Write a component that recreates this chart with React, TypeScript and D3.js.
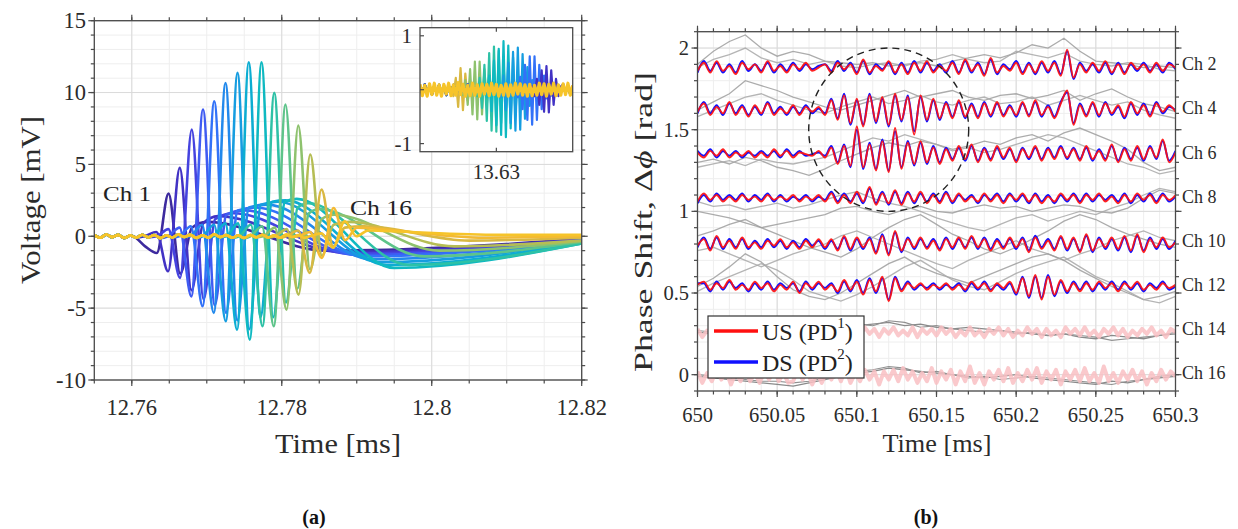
import React from "react";
import * as d3 from "d3";

const FONT = "'Liberation Serif', 'Times New Roman', serif";

// ================= Panel (a): voltage traces, 16 channels =================
const aChColors = ["#3d2a9e", "#4232c4", "#4543df", "#3f5bf2", "#3272f8", "#2289ec", "#169de0", "#0cadd2", "#0fb9c1", "#2ec1a6", "#5ec48a", "#8ec26e", "#b5bd54", "#d9b842", "#f3ba33", "#f6c42a"];
const aPeakT = [12.7649, 12.7664, 12.768, 12.7695, 12.771, 12.7725, 12.7741, 12.7756, 12.7773, 12.779, 12.7805, 12.7822, 12.7838, 12.7853, 12.7869, 12.7884];
const aPeakV = [2.97, 4.76, 7.42, 8.82, 9.4, 10.67, 11.37, 12.1, 12.1, 9.98, 9.17, 7.7, 5.69, 3.25, 1.97, 1.05];
const aPre2V = [-0.7, 0.3, 0.5, 0.6, 0.7, 0.8, 0.8, 0.9, 0.9, 0.8, 0.7, 0.6, 0.5, 0.4, 0.3, 0.2];
const aPreV = [-1.16, -2.43, -2.9, -4.18, -4.87, -5.33, -5.91, -6.5, -7.19, -6.26, -6.26, -5.1, -4.06, -2.55, -1.5, -0.8];
const aPostV = [-2.6, -3.76, -4.38, -4.8, -5.32, -5.85, -6.47, -5.63, -5.63, -4.6, -3.65, -2.3, -1.35, -0.72, -0.27, 0.0];
const aPost2V = [0.6, 0.9, 1.2, 1.5, 1.8, 2.0, 2.2, 2.4, 2.4, 2.0, 1.6, 1.2, 0.8, 0.6, 0.6, 0.4];
const aHumpT = [12.77, 12.7715, 12.7735, 12.775, 12.7765, 12.778, 12.7795, 12.7805, 12.782, 12.7835, 12.785, 12.787, 12.789, 12.791, 12.793, 12.7945];
const aHumpV = [1.0, 1.4, 1.6, 1.8, 2.0, 2.2, 2.4, 2.5, 2.6, 2.3, 1.9, 1.5, 1.0, 0.7, 0.5, 0.35];
const aTailT = [12.786, 12.788, 12.789, 12.79, 12.791, 12.792, 12.793, 12.794, 12.795, 12.797, 12.799, 12.801, 12.803, 12.805, 12.807, 12.809];
const aTailV = [-1.0, -1.1, -1.2, -1.3, -1.4, -1.6, -1.8, -2.0, -2.2, -2.0, -1.4, -1.0, -0.7, -0.3, -0.1, 0.1];
const aEndV = [-0.2, -0.2, -0.25, -0.3, -0.3, -0.35, -0.4, -0.45, -0.5, -0.5, -0.4, -0.35, -0.3, -0.1, 0.0, 0.1];
const aSpikeStep = 0.00156;
const aNoiseStep = 0.0008;
const aBaseNoise = [0.08, -0.1, 0.12, -0.06, 0.1, -0.12, 0.05, -0.09, 0.11, -0.07, 0.09, -0.13, 0.06, -0.08, 0.12, -0.05, 0.1, -0.11, 0.07, -0.09, 0.13, -0.06, 0.08, -0.1, 0.05, -0.12, 0.09, -0.07, 0.11, -0.08, 0.06, -0.1, 0.12, -0.05, 0.09, -0.11, 0.07, -0.08, 0.1, -0.06, 0.12, -0.09, 0.05, -0.1, 0.08];
const aXTicks = [12.76, 12.78, 12.8, 12.82];
const aXTickLabels = ["12.76", "12.78", "12.8", "12.82"];
const aYTicks = [-10, -5, 0, 5, 10, 15];
const aYTickLabels = ["-10", "-5", "0", "5", "10", "15"];

// inset of panel (a)
const insetStep = 0.000125;
const insetStart = 13.626;
const insetEnd = 13.634;
const insetChIdx = [13, 11, 9, 8, 6, 4, 1];
const insetBurstStart = [13.62768, 13.62815, 13.62883, 13.62935, 13.63014, 13.63098, 13.63192];
const insetBurstAmp = [
  [0.05, 0.12, 0.22, 0.32, 0.4, 0.38, 0.3, 0.2, 0.12, 0.06],
  [0.05, 0.1, 0.18, 0.28, 0.38, 0.46, 0.52, 0.55, 0.52, 0.46, 0.38, 0.28, 0.2, 0.12, 0.06],
  [0.05, 0.12, 0.22, 0.34, 0.46, 0.58, 0.68, 0.76, 0.8, 0.78, 0.72, 0.62, 0.5, 0.38, 0.26, 0.16, 0.08],
  [0.06, 0.14, 0.26, 0.4, 0.54, 0.66, 0.76, 0.84, 0.9, 0.88, 0.82, 0.72, 0.6, 0.46, 0.32, 0.2, 0.1],
  [0.06, 0.14, 0.26, 0.38, 0.5, 0.62, 0.7, 0.76, 0.78, 0.74, 0.66, 0.54, 0.42, 0.3, 0.18, 0.1],
  [0.06, 0.14, 0.24, 0.36, 0.46, 0.56, 0.62, 0.65, 0.62, 0.56, 0.46, 0.36, 0.26, 0.16, 0.08],
  [0.06, 0.12, 0.2, 0.28, 0.36, 0.41, 0.44, 0.42, 0.36, 0.28, 0.2, 0.12, 0.06],
];
const insetNoise = [0.06, -0.08, 0.1, -0.05, 0.07, -0.09, 0.04, -0.07, 0.09, -0.06, 0.08, -0.1, 0.05, -0.07, 0.09, -0.04, 0.07, -0.08, 0.06, -0.09, 0.1, -0.06, 0.05, -0.08, 0.07, -0.05, 0.09, -0.07, 0.06, -0.1, 0.08, -0.05, 0.07, -0.09, 0.05, -0.06, 0.1, -0.08, 0.04, -0.07, 0.09, -0.06, 0.08, -0.1, 0.05, -0.07, 0.06, -0.09, 0.1, -0.05, 0.07, -0.08, 0.06, -0.06, 0.09, -0.1, 0.05, -0.07, 0.08, -0.06, 0.1, -0.05, 0.07, -0.09, 0.06];
const insetYellow = [0.1, -0.11, 0.08, -0.12, 0.11, -0.09, 0.12, -0.1, 0.09, -0.12, 0.1, -0.08, 0.12, -0.11, 0.09, -0.1, 0.13, -0.09, 0.1, -0.12, 0.08, -0.11, 0.12, -0.1, 0.09, -0.12, 0.11, -0.08, 0.1, -0.11, 0.12, -0.09, 0.1, -0.12, 0.08, -0.1, 0.11, -0.12, 0.09, -0.1, 0.12, -0.08, 0.11, -0.1, 0.09, -0.12, 0.1, -0.11, 0.08, -0.1, 0.12, -0.09, 0.11, -0.12, 0.1, -0.08, 0.12, -0.11, 0.09, -0.1, 0.11, -0.09, 0.12, -0.1, 0.08];

// ================= Panel (b): phase shift traces =================
const bChLabels = ["Ch 2", "Ch 4", "Ch 6", "Ch 8", "Ch 10", "Ch 12", "Ch 14", "Ch 16"];
const bChLabelY = [1.9, 1.63, 1.36, 1.09, 0.82, 0.55, 0.28, 0.01];
const bBase = [1.88, 1.62, 1.35, 1.08, 0.8, 0.54, 0.26, -0.01];
// US (red) / DS (blue) deviations, hundredths of rad, 76 samples over 650–650.3 ms
const bRed = [
  [-2, 3, -3, 4, -2, 1, -4, 3, -1, 2, -3, 4, -2, 1, -3, 2, -1, 3, -2, 0, 2, -3, 3, -1, 2, -4, 5, -3, 1, -2, 4, -3, 2, -4, 3, -2, 4, -3, 1, -2, 3, -4, 5, -2, 2, -5, 6, -3, 1, -2, 3, -4, 2, -3, 4, -2, 3, -5, 11, -6, 2, -3, 3, -2, 4, -3, 2, -4, 3, -1, 2, -3, 3, -2, 2, 0],
  [-1, 4, -3, 2, -2, 5, -3, 2, -4, 3, -2, 4, -3, 1, -2, 3, -3, 2, -1, 2, -3, 6, -6, 9, -8, 7, -10, 9, -7, 8, -9, 10, -6, 8, -15, 9, -6, 7, -5, 4, -5, 6, -4, 3, -5, 4, -3, 5, -4, 2, -3, 5, -4, 6, -3, 2, -5, 4, 12, -9, 3, -4, 5, -3, 4, -2, 3, -4, 5, -2, 3, -4, 4, -1, 3, -1],
  [1, -2, 2, -1, 3, -2, 1, -1, 2, -2, 1, -2, 3, -1, 2, -2, 1, 0, -1, 2, -2, 4, -6, 5, -7, 17, -8, 6, -10, 8, -11, 16, -9, 7, -6, 8, -5, 4, -6, 3, -4, 5, -3, 6, -5, 3, -4, 5, -2, 4, -5, 3, -2, 5, -4, 3, -3, 4, -2, 3, -4, 5, -3, 2, -4, 6, -5, 3, -4, 5, -3, 4, -2, 9, -5, 1],
  [-2, 3, -1, 2, -2, 1, -2, 2, -1, 1, -2, 2, -1, 1, -1, 2, -2, 1, -1, 2, -2, 3, -3, 2, -3, 4, -2, 7, -4, 3, -3, 5, -4, 3, -2, 4, -3, 2, -3, 3, -2, 3, -2, 1, -2, 3, -2, 2, -3, 2, -1, 3, -2, 2, -3, 1, -2, 3, -1, 2, -3, 2, -1, 3, -2, 1, -3, 2, -2, 3, -1, 2, -3, 2, -1, 2],
  [-1, 3, -4, 5, -2, 2, -3, 4, -2, 1, -3, 2, -1, 3, -2, 1, -3, 2, -2, 3, -2, 3, -4, 5, -3, 4, -2, 3, -6, 5, -7, 8, -4, 3, -2, 4, -3, 2, -4, 3, -2, 4, -3, 5, -2, 3, -4, 2, -3, 4, -2, 3, -5, 4, -3, 2, -4, 5, -3, 4, -5, 6, -4, 3, -2, 4, -3, 5, -4, 6, -5, 3, -2, 4, -2, 1],
  [1, 3, -2, 2, -1, 4, -2, 1, -2, 3, -1, 2, -3, 1, -2, 3, -4, 2, -1, 3, -2, 1, -3, 4, -2, 3, -5, 4, -3, 6, -9, 5, -3, 2, -1, 2, -2, 1, -1, 2, -2, 1, -2, 3, -1, 2, -3, 2, -1, 3, -4, 5, -6, 7, -8, 6, -5, 4, -3, 2, -3, 2, -2, 3, -1, 2, -3, 2, -1, 3, -2, 1, -2, 2, -1, 1],
];
const bBlue = [
  [-3, 4, -2, 3, -3, 2, -3, 4, -2, 2, -2, 3, -3, 2, -2, 3, -2, 2, -1, 1, 2, -2, 4, -2, 3, -3, 4, -4, 2, -1, 3, -4, 3, -3, 4, -3, 3, -2, 2, -3, 4, -3, 4, -3, 3, -4, 5, -4, 2, -1, 4, -3, 3, -4, 3, -3, 4, -4, 10, -7, 3, -2, 2, -3, 3, -4, 3, -3, 2, -2, 3, -2, 2, -3, 3, -1],
  [-2, 5, -2, 3, -3, 4, -2, 3, -3, 2, -3, 5, -2, 2, -3, 2, -2, 3, -2, 1, -2, 7, -5, 10, -9, 6, -9, 10, -8, 7, -10, 9, -7, 9, -13, 8, -7, 6, -6, 5, -4, 5, -5, 4, -4, 5, -4, 4, -3, 3, -4, 4, -3, 5, -4, 3, -4, 5, 11, -8, 4, -3, 4, -4, 5, -3, 2, -5, 4, -3, 4, -3, 5, -2, 2, 0],
  [2, -1, 3, -2, 2, -1, 2, -2, 1, -1, 2, -1, 2, -2, 3, -1, 2, -1, 0, 1, -1, 5, -5, 6, -8, 15, -9, 7, -9, 9, -10, 14, -8, 8, -7, 7, -6, 5, -5, 4, -3, 4, -4, 5, -4, 4, -3, 4, -3, 3, -4, 4, -3, 4, -3, 4, -2, 5, -3, 4, -3, 4, -4, 3, -3, 5, -4, 4, -3, 4, -4, 5, -3, 8, -4, 2],
  [-3, 2, -2, 3, -1, 2, -1, 3, -2, 2, -1, 3, -2, 2, -2, 1, -1, 2, -2, 1, -1, 4, -2, 3, -2, 3, -3, 6, -3, 4, -4, 4, -3, 4, -3, 3, -2, 3, -2, 4, -3, 2, -1, 2, -3, 2, -1, 3, -2, 3, -2, 2, -3, 3, -2, 2, -3, 2, -2, 3, -2, 3, -2, 2, -1, 2, -2, 3, -3, 2, -2, 3, -2, 3, -2, 1],
  [-2, 4, -3, 4, -3, 3, -2, 3, -3, 2, -2, 3, -2, 2, -3, 2, -2, 3, -1, 2, -3, 2, -3, 4, -4, 3, -3, 4, -5, 6, -6, 7, -5, 4, -3, 3, -2, 3, -3, 4, -3, 3, -2, 4, -3, 4, -3, 3, -2, 3, -3, 4, -4, 5, -2, 3, -3, 4, -4, 3, -4, 5, -5, 4, -3, 3, -4, 4, -5, 5, -4, 4, -3, 3, -3, 2],
  [2, 2, -3, 3, -2, 3, -1, 2, -3, 2, -2, 3, -2, 2, -1, 2, -3, 3, -2, 2, -1, 2, -4, 3, -3, 4, -4, 5, -4, 5, -8, 6, -2, 3, -2, 1, -1, 2, -2, 1, -1, 2, -3, 2, -2, 3, -2, 1, -2, 2, -5, 6, -7, 6, -7, 7, -6, 3, -4, 3, -2, 3, -3, 2, -2, 3, -2, 3, -2, 2, -3, 2, -1, 3, -2, 0],
];
// grey reference traces, hundredths of rad from channel baseline, every 0.01 ms
const bGrayA = [
  [2, 10, 16, 20, 12, 7, 10, 8, 4, 3, 2, 3, 1, 2, 3, 1, 4, 6, 8, 6, 9, 14, 12, 18, 10, 4, 3, 2, 0, 1, 0],
  [0, 5, 10, 18, 15, 12, 8, 5, 2, 0, 3, 6, 9, 12, 8, 10, 12, 8, 6, 9, 10, 7, 9, 12, 6, 10, 13, 8, 4, 2, -1],
  [-5, -3, -6, -2, -4, -8, -10, -13, -9, -4, 0, 4, 7, 5, 8, 6, 3, 5, 8, 6, 10, 12, 8, 13, 16, 12, 8, 3, -5, -10, -8],
  [-8, -10, -12, -15, -18, -16, -14, -12, -10, -6, -5, -8, -10, -7, -5, -8, -9, -6, -4, -6, -5, -8, -6, -4, -5, -8, -9, -6, 0, 5, 3],
  [5, 8, 12, 15, 10, 6, 2, -2, -5, -8, -3, 4, 10, 15, 18, 12, 6, 2, -3, -6, -2, 3, 8, 14, 18, 15, 10, 6, 3, 0, -2],
  [0, 5, 12, 20, 15, 6, -2, -6, -8, -4, 2, 8, 14, 18, 12, 8, 5, 2, 6, 10, 14, 18, 20, 16, 10, 5, 0, -4, -8, -6, -3],
  [0, -1, 0, 1, 0, -1, 1, 0, 2, 3, 4, 5, 6, 4, 5, 3, 2, 3, 2, 1, 0, -1, -2, -1, -3, -4, -2, -3, -4, -2, -1],
  [0, -1, -2, -3, -4, -5, -6, -4, -2, 0, 2, 3, 5, 4, 3, 2, 1, 0, -1, 0, 1, -1, -2, -3, -4, -5, -3, -4, -2, -1, 0],
];
const bGrayB = [
  [0, 5, 8, 12, 6, 3, 5, 2, 4, 1, 0, 2, 3, 1, 4, 5, 8, 5, 3, 4, 10, 8, 6, 9, 4, 2, 1, 3, 2, -1, -2],
  [-4, 0, 4, 8, 10, 6, 3, 0, -2, 2, 5, 8, 4, 6, 9, 5, 3, 6, 8, 4, 5, 8, 3, 6, 9, 6, 3, 5, 0, -3, -5],
  [-8, -6, -4, -7, -3, -5, -6, -4, -2, 2, 6, 10, 8, 12, 9, 6, 2, 4, 1, 3, 6, 9, 12, 10, 6, 2, -2, -6, -8, -12, -10],
  [-2, -5, -4, -7, -5, -3, -6, -4, -1, 2, 4, 0, -3, -5, -8, -12, -15, -18, -20, -16, -12, -10, -14, -11, -8, -10, -6, -3, 2, 6, 4],
  [-4, -2, -6, -10, -14, -10, -6, -3, 0, 5, 8, 4, 0, -4, -8, -12, -15, -10, -6, -2, 2, -3, -6, -10, -6, -3, 2, 5, 8, 4, 2],
  [-3, 2, 6, 10, 14, 10, 4, -3, -6, -9, -5, 0, 6, 12, 16, 10, 4, 0, -2, 3, 8, 12, 15, 18, 12, 6, 2, -3, -8, -10, -6],
  [1, 0, -1, 0, 1, 0, -1, 1, 3, 2, 5, 4, 7, 6, 3, 4, 2, 1, 0, 1, -1, 0, -2, -1, -2, -3, -5, -4, -3, -2, 0],
  [1, 0, -1, -2, -3, -3, -4, -3, -1, 1, 3, 4, 6, 5, 2, 3, 1, -1, 0, -2, -1, 0, -1, -2, -3, -4, -5, -3, -2, 0, 1],
];
// faded (pink) traces of Ch 14 and Ch 16, hundredths of rad, 101 samples
const bPink = [
  [2, -3, 1, -2, 3, -1, 2, -3, 1, -2, 3, -2, 1, -3, 2, -1, 3, -2, 2, -1, -3, 2, -2, 3, -1, 2, -3, 1, -2, 3, -2, 1, -3, 2, -2, 3, -1, 2, -3, 2, -1, 3, -2, 1, -2, 3, -3, 2, -1, 2, -2, 3, -1, 2, -3, 1, -2, 3, -2, 1, -3, 2, -1, 3, -2, 2, -3, 1, -2, 3, -1, 2, -3, 2, -2, 1, -3, 3, -1, 2, -2, 3, -2, 1, -3, 2, -1, 3, -2, 2, -3, 1, -2, 2, -1, 3, -2, 1, -3, 2, 0],
  [3, -4, 2, -3, 4, -2, 3, -5, 2, -3, 4, -3, 2, -4, 3, -2, 5, -3, 2, -4, -3, 4, -2, 3, -5, 2, -4, 3, -2, 4, -3, 5, -4, 2, -3, 4, -2, 3, -5, 3, -2, 4, -3, 5, -2, 3, -4, 2, -3, 5, -4, 3, -2, 4, -5, 3, -3, 6, -4, 2, -5, 3, -2, 4, -3, 5, -4, 2, -3, 4, -2, 5, -4, 3, -2, 4, -5, 3, -2, 4, -3, 5, -3, 2, -4, 6, -3, 2, -4, 3, -2, 4, -3, 3, -5, 2, -3, 4, -2, 3, 0],
];
const bEllipseCenter = [650.12, 1.5];
const bEllipseRadii = [0.0502, 0.5];
const bXTicks = [650, 650.05, 650.1, 650.15, 650.2, 650.25, 650.3];
const bXTickLabels = ["650", "650.05", "650.1", "650.15", "650.2", "650.25", "650.3"];
const bYTicks = [0, 0.5, 1, 1.5, 2];
const bYTickLabels = ["0", "0.5", "1", "1.5", "2"];

// ================= scales =================
const xA = d3.scaleLinear().domain([12.755, 12.82]).range([94.3, 581.7]);
const yA = d3.scaleLinear().domain([-10, 15]).range([380, 20.7]);
const xI = d3.scaleLinear().domain([insetStart, insetEnd]).range([420, 572.7]);
const yI = d3.scaleLinear().domain([-1.15, 1.15]).range([151.7, 27.7]);
const xB = d3.scaleLinear().domain([650, 650.3]).range([697.5, 1175.5]);
const yB = d3.scaleLinear().domain([-0.1, 2.1]).range([391, 31.7]);

type Pt = [number, number];
type Scale = d3.ScaleLinear<number, number>;

const AX = "#4a4a4a";
const TXT = "#2b2b2b";

function grid(x: Scale, y: Scale, xMin: number[], yMin: number[], xMaj: number[], yMaj: number[], k: string) {
  const [x0, x1] = x.range();
  const [y0, y1] = y.range();
  const out: any[] = [];
  xMin.forEach((v, i) => out.push(<line key={k + "gx" + i} x1={x(v)} x2={x(v)} y1={y0} y2={y1} stroke="#eeeeee" strokeWidth={1} />));
  yMin.forEach((v, i) => out.push(<line key={k + "gy" + i} x1={x0} x2={x1} y1={y(v)} y2={y(v)} stroke="#eeeeee" strokeWidth={1} />));
  xMaj.forEach((v, i) => out.push(<line key={k + "Gx" + i} x1={x(v)} x2={x(v)} y1={y0} y2={y1} stroke="#dadada" strokeWidth={1} />));
  yMaj.forEach((v, i) => out.push(<line key={k + "Gy" + i} x1={x0} x2={x1} y1={y(v)} y2={y(v)} stroke="#dadada" strokeWidth={1} />));
  return out;
}

function frame(x: Scale, y: Scale, xMin: number[], yMin: number[], xMaj: number[], yMaj: number[], k: string) {
  const [x0, x1] = x.range();
  const [y0, y1] = y.range();
  const out: any[] = [];
  const tk = (key: string, a: number, b: number, c: number, d: number) => out.push(<line key={key} x1={a} y1={b} x2={c} y2={d} stroke={AX} strokeWidth={1.2} />);
  xMin.forEach((v, i) => { tk(k + "xb" + i, x(v), y0, x(v), y0 + 3.5); tk(k + "xt" + i, x(v), y1, x(v), y1 - 3.5); });
  xMaj.forEach((v, i) => { tk(k + "Xb" + i, x(v), y0, x(v), y0 + 6); tk(k + "Xt" + i, x(v), y1, x(v), y1 - 6); });
  yMin.forEach((v, i) => { tk(k + "yl" + i, x0, y(v), x0 - 3.5, y(v)); tk(k + "yr" + i, x1, y(v), x1 + 3.5, y(v)); });
  yMaj.forEach((v, i) => { tk(k + "Yl" + i, x0, y(v), x0 - 6, y(v)); tk(k + "Yr" + i, x1, y(v), x1 + 6, y(v)); });
  out.push(<rect key={k + "box"} x={x0} y={y1} width={x1 - x0} height={y0 - y1} fill="none" stroke={AX} strokeWidth={1.3} />);
  return out;
}

function channelPoints(k: number): Pt[] {
  const t0 = aPeakT[k];
  const s = aSpikeStep;
  const pts: Pt[] = [];
  aBaseNoise.forEach((v, i) => {
    const t = 12.755 + i * aNoiseStep;
    if (t < t0 - 3 * s - 0.0004) pts.push([t, v]);
  });
  pts.push([t0 - 3 * s, 0]);
  pts.push([t0 - 2 * s, aPre2V[k]]);
  pts.push([t0 - s, aPreV[k]]);
  pts.push([t0, aPeakV[k]]);
  pts.push([t0 + s, aPostV[k]]);
  pts.push([t0 + 2 * s, aPost2V[k]]);
  pts.push([aHumpT[k], aHumpV[k]]);
  pts.push([aTailT[k], aTailV[k]]);
  pts.push([12.82, aEndV[k]]);
  return pts;
}

function insetPoints(j: number): Pt[] {
  const amp = insetBurstAmp[j];
  const si = Math.round((insetBurstStart[j] - insetStart) / insetStep);
  return insetNoise.map((nv, i) => {
    const jj = i - si;
    const v = jj >= 0 && jj < amp.length ? (jj % 2 === 0 ? amp[jj] : -amp[jj]) : nv;
    return [insetStart + i * insetStep, v] as Pt;
  });
}

export default function App() {
  const lineA = d3.line<Pt>().x((d) => xA(d[0])).y((d) => yA(d[1])).curve(d3.curveMonotoneX);
  const lineI = d3.line<Pt>().x((d) => xI(d[0])).y((d) => yI(d[1]));
  const lineB = d3.line<Pt>().x((d) => xB(d[0])).y((d) => yB(d[1])).curve(d3.curveMonotoneX);
  const lineG = d3.line<Pt>().x((d) => xB(d[0])).y((d) => yB(d[1]));

  const aXMin = d3.range(14).map((i) => 12.755 + i * 0.005);
  const aYMin = d3.range(26).map((i) => -10 + i);
  const bXMin = d3.range(31).map((i) => 650 + i * 0.01);
  const bYMin = d3.range(23).map((i) => -0.1 + i * 0.1);

  const series = (arr: number[], base: number, t0: number, t1: number): Pt[] =>
    arr.map((d, i) => [t0 + ((t1 - t0) * i) / (arr.length - 1), base + d / 100] as Pt);

  return (
    <svg width={1238} height={529} style={{ position: "absolute", left: 0, top: 0, background: "#fff" }} fontFamily={FONT}>
      <rect x={0} y={0} width={1238} height={529} fill="#fff" />
      <defs>
        <clipPath id="clipA"><rect x={94.3} y={20.7} width={487.4} height={359.3} /></clipPath>
        <clipPath id="clipB"><rect x={697.5} y={31.7} width={478} height={359.3} /></clipPath>
        <clipPath id="clipI"><rect x={420} y={27.7} width={152.7} height={124} /></clipPath>
      </defs>

      {/* ---------- panel (a) ---------- */}
      {grid(xA, yA, aXMin, aYMin, aXTicks, aYTicks, "a")}
      <g clipPath="url(#clipA)">
        {aPeakT.map((_, k) => (
          <path key={"ch" + k} d={lineA(channelPoints(k)) || ""} fill="none" stroke={aChColors[k]} strokeWidth={2.6} strokeLinejoin="round" />
        ))}
      </g>
      {frame(xA, yA, aXMin, aYMin, aXTicks, aYTicks, "a")}
      {aXTicks.map((v, i) => (
        <text key={"axl" + i} x={xA(v)} y={407} fontSize={22.5} textAnchor="middle" dominantBaseline="central" fill={TXT}>{aXTickLabels[i]}</text>
      ))}
      {aYTicks.map((v, i) => (
        <text key={"ayl" + i} x={86} y={yA(v)} fontSize={22.5} textAnchor="end" dominantBaseline="central" fill={TXT}>{aYTickLabels[i]}</text>
      ))}
      <text x={338} y={443} fontSize={28} textAnchor="middle" dominantBaseline="central" fill={TXT} textLength={126} lengthAdjust="spacingAndGlyphs">Time [ms]</text>
      <text transform="translate(30,200) rotate(-90)" fontSize={28} textAnchor="middle" dominantBaseline="central" fill={TXT} textLength={168} lengthAdjust="spacingAndGlyphs">Voltage [mV]</text>
      <text x={103} y={193} fontSize={22} dominantBaseline="central" fill="#222" textLength={48} lengthAdjust="spacingAndGlyphs">Ch 1</text>
      <text x={350} y={207} fontSize={22} dominantBaseline="central" fill="#222" textLength={62} lengthAdjust="spacingAndGlyphs">Ch 16</text>

      {/* inset */}
      <rect x={420} y={27.7} width={152.7} height={124} fill="#fff" />
      <g clipPath="url(#clipI)">
        {insetBurstStart.map((_, j) => (
          <path key={"in" + j} d={lineI(insetPoints(j)) || ""} fill="none" stroke={aChColors[insetChIdx[j]]} strokeWidth={2.2} strokeLinejoin="round" />
        ))}
        <path d={lineI(insetYellow.map((v, i) => [insetStart + i * insetStep, v] as Pt)) || ""} fill="none" stroke={aChColors[15]} strokeWidth={3.2} strokeLinejoin="round" />
      </g>
      <rect x={420} y={27.7} width={152.7} height={124} fill="none" stroke={AX} strokeWidth={1.3} />
      {[-1, 0, 1].map((v, i) => (
        <line key={"ity" + i} x1={420} x2={424} y1={yI(v)} y2={yI(v)} stroke={AX} strokeWidth={1.2} />
      ))}
      <line x1={xI(13.63)} x2={xI(13.63)} y1={151.7} y2={147.7} stroke={AX} strokeWidth={1.2} />
      <line x1={xI(13.63)} x2={xI(13.63)} y1={27.7} y2={31.7} stroke={AX} strokeWidth={1.2} />
      <text x={412} y={yI(1)} fontSize={21} textAnchor="end" dominantBaseline="central" fill={TXT}>1</text>
      <text x={412} y={yI(-1)} fontSize={21} textAnchor="end" dominantBaseline="central" fill={TXT}>-1</text>
      <text x={xI(13.63)} y={172} fontSize={21} textAnchor="middle" dominantBaseline="central" fill={TXT}>13.63</text>

      {/* ---------- panel (b) ---------- */}
      {grid(xB, yB, bXMin, bYMin, bXTicks, bYTicks, "b")}
      <g clipPath="url(#clipB)">
        {bBase.slice(0, 6).map((b, c) => (
          <g key={"gr" + c}>
            <path d={lineG(series(bGrayA[c], b, 650, 650.3)) || ""} fill="none" stroke="#9e9e9e" strokeWidth={1.3} opacity={0.85} />
            <path d={lineG(series(bGrayB[c], b, 650, 650.3)) || ""} fill="none" stroke="#a8a8a8" strokeWidth={1.3} opacity={0.85} />
          </g>
        ))}
        {bBase.slice(0, 6).map((b, c) => (
          <g key={"rb" + c}>
            <path d={lineB(series(bBlue[c], b, 650, 650.3)) || ""} fill="none" stroke="#1010ff" strokeWidth={2} strokeLinejoin="round" />
            <path d={lineB(series(bRed[c], b, 650, 650.3)) || ""} fill="none" stroke="#ff1010" strokeWidth={1.9} strokeLinejoin="round" opacity={0.92} />
          </g>
        ))}
        {[6, 7].map((c, i) => (
          <g key={"pk" + c}>
            <path d={lineG(series(bGrayA[c], bBase[c], 650, 650.3)) || ""} fill="none" stroke="#8a8a8a" strokeWidth={1.3} />
            <path d={lineG(series(bGrayB[c], bBase[c], 650, 650.3)) || ""} fill="none" stroke="#909090" strokeWidth={1.1} />
            <path d={lineG(series(bPink[i], bBase[c], 650, 650.3)) || ""} fill="none" stroke="#f9bfc3" strokeWidth={4} strokeLinejoin="round" opacity={0.85} />
          </g>
        ))}
      </g>
      <ellipse cx={xB(bEllipseCenter[0])} cy={yB(bEllipseCenter[1])} rx={xB(650 + bEllipseRadii[0]) - xB(650)} ry={yB(0) - yB(bEllipseRadii[1])} fill="none" stroke="#222" strokeWidth={1.4} strokeDasharray="7,5" />
      {frame(xB, yB, bXMin, bYMin, bXTicks, bYTicks, "b")}
      {bXTicks.map((v, i) => (
        <text key={"bxl" + i} x={xB(v)} y={415} fontSize={20.5} textAnchor="middle" dominantBaseline="central" fill={TXT}>{bXTickLabels[i]}</text>
      ))}
      {bYTicks.map((v, i) => (
        <text key={"byl" + i} x={689} y={yB(v)} fontSize={20.5} textAnchor="end" dominantBaseline="central" fill={TXT}>{bYTickLabels[i]}</text>
      ))}
      {bChLabels.map((l, i) => (
        <text key={"chl" + i} x={1182} y={yB(bChLabelY[i])} fontSize={18} dominantBaseline="central" fill={TXT}>{l}</text>
      ))}
      <text x={937} y={443} fontSize={25} textAnchor="middle" dominantBaseline="central" fill={TXT} textLength={109} lengthAdjust="spacingAndGlyphs">Time [ms]</text>
      <text transform="translate(643,222) rotate(-90)" fontSize={26} textAnchor="middle" dominantBaseline="central" fill={TXT} textLength={300} lengthAdjust="spacingAndGlyphs">
        Phase Shift, Δ<tspan fontStyle="italic">ϕ</tspan> [rad]
      </text>

      {/* legend */}
      <rect x={708} y={316} width={156} height={62} fill="#fff" stroke="#333" strokeWidth={1.2} />
      <line x1={714} x2={758} y1={331} y2={331} stroke="#ff1010" strokeWidth={3.5} />
      <line x1={714} x2={758} y1={362} y2={362} stroke="#1010ff" strokeWidth={3.5} />
      <text x={762} y={332} fontSize={24} dominantBaseline="central" fill="#222">
        US (PD<tspan dy={-9} fontSize={15}>1</tspan><tspan dy={9}>)</tspan>
      </text>
      <text x={762} y={363} fontSize={24} dominantBaseline="central" fill="#222">
        DS (PD<tspan dy={-9} fontSize={15}>2</tspan><tspan dy={9}>)</tspan>
      </text>

      {/* captions */}
      <text x={314} y={517} fontSize={20} fontWeight="bold" textAnchor="middle" dominantBaseline="central" fill="#111">(a)</text>
      <text x={926} y={517} fontSize={20} fontWeight="bold" textAnchor="middle" dominantBaseline="central" fill="#111">(b)</text>
    </svg>
  );
}
